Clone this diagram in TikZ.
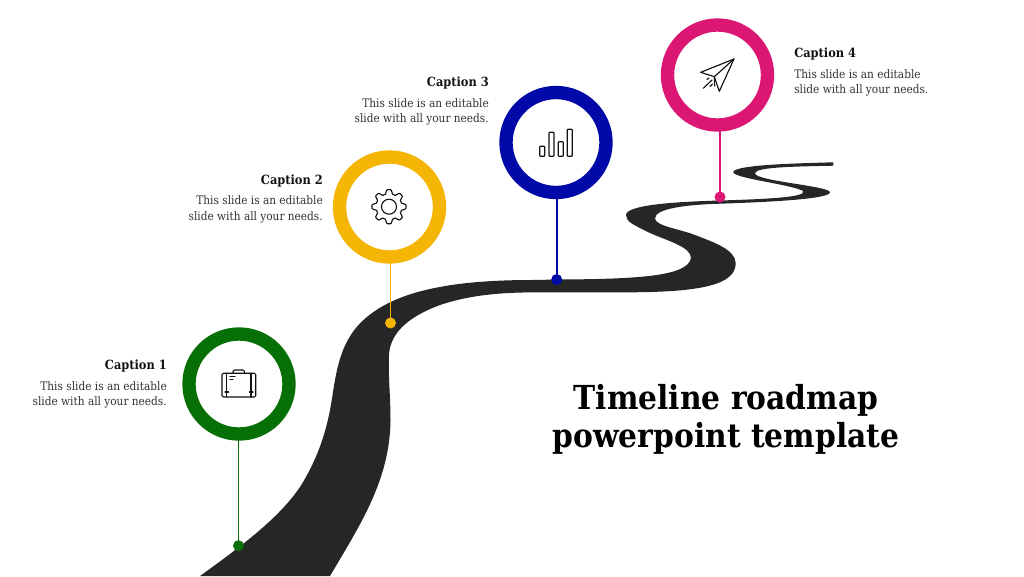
\documentclass[tikz,border=0pt]{standalone}
\usepackage{fontspec}
\setmainfont{DejaVu Serif Condensed}
\definecolor{cgreen}{HTML}{067006}
\definecolor{cyellow}{HTML}{F4B504}
\definecolor{cblue}{HTML}{0009A8}
\definecolor{cpink}{HTML}{DC1773}
\definecolor{road}{HTML}{262626}
\definecolor{ink}{HTML}{111111}
\definecolor{bodyink}{HTML}{333333}
\tikzset{
  ring/.style={circle,draw=#1,line width=10pt,fill=white,minimum size=75pt,inner sep=0pt,outer sep=0pt},
  pin/.style={circle,fill=#1,minimum size=8.25pt,inner sep=0pt},
  stem/.style={draw=#1,line width=1.2pt},
  icon/.style={draw=ink,line width=0.85pt,line join=round,line cap=round},
  caphead/.style={inner sep=0pt,font=\fontsize{9.5}{11}\selectfont\bfseries,text=ink},
  capbody/.style={inner sep=0pt,font=\fontsize{8.8}{11.6}\selectfont,text=bodyink},
  headline/.style={inner sep=0pt,align=center,font=\fontsize{24.8}{28.6}\selectfont\bfseries,text=black}
}
\begin{document}
\begin{tikzpicture}[x=0.75pt,y=-0.75pt]
\useasboundingbox (0,0) rectangle (1024,576);
% road
\fill[road] (833.3,162.3)
 .. controls (790,163.5) and (737,165) .. (733.3,171.7)
 .. controls (731,178) and (790,184) .. (803,191)
 .. controls (807,197) and (770,199) .. (720,200.5)
 .. controls (685,201.5) and (626,204) .. (626,215)
 .. controls (626,222) and (634,225) .. (650,233)
 .. controls (668,241) and (691,247) .. (691,258)
 .. controls (688,276) and (640,279) .. (560,279.5)
 -- (530,280)
 .. controls (500,280) and (465,282) .. (440,287)
 .. controls (400,294) and (365,310) .. (349,338)
 .. controls (340,353) and (336,372) .. (333,392)
 .. controls (329,420) and (322,452) .. (300,487)
 .. controls (280,516) and (250,540) .. (200,576)
 -- (330,576)
 .. controls (360,525) and (390,480) .. (390.5,420)
 .. controls (390.5,395) and (388,375) .. (389,355)
 .. controls (390,335) and (405,318) .. (440,305)
 .. controls (470,295) and (500,292.3) .. (540,292.3)
 -- (630,292.3)
 .. controls (700,292) and (736,285) .. (735.7,263)
 .. controls (735,250) and (716,243) .. (695,235)
 .. controls (680,229) and (655,226) .. (655,218.3)
 .. controls (655,208) and (690,204.5) .. (720,203.7)
 .. controls (770,202) and (830,199) .. (830,192.3)
 .. controls (830,186) and (755,181) .. (755,173.3)
 .. controls (755,167) and (795,166.5) .. (833.3,165.7)
 -- cycle;
% rings and pins
\node[ring=cgreen] (r1) at (239,384) {};
\node[ring=cyellow] (r2) at (389.5,207) {};
\node[ring=cblue] (r3) at (556,142.5) {};
\node[ring=cpink] (r4) at (717.5,75) {};
\node[pin=cgreen] (p1) at (238.5,545.7) {};
\node[pin=cyellow] (p2) at (390.5,323) {};
\node[pin=cblue] (p3) at (556.7,279.5) {};
\node[pin=cpink] (p4) at (720,197) {};
\draw[stem=cgreen] (p1.center) -- (p1.center |- r1.south);
\draw[stem=cyellow] (p2.center) -- (p2.center |- r2.south);
\draw[stem=cblue] (p3.center) -- (p3.center |- r3.south);
\draw[stem=cpink] (p4.center) -- (p4.center |- r4.south);
% briefcase
\draw[icon,rounded corners=1pt] (222,373.3) rectangle (255.7,397);
\draw[icon] (226.7,373.3) -- (226.7,397) (251,373.3) -- (251,397);
\draw[icon] (225,392) -- (228.5,392) (249.5,392) -- (253,392);
\draw[icon] (230,376.7) -- (235,376.7) (230,379.5) -- (233,379.5);
\draw[icon,rounded corners=1.5pt] (233,373.3) -- (233,370) -- (244.5,370) -- (244.5,373.3);
% gear
\draw[icon] plot[smooth cycle,tension=0.3,samples=96,domain=0:356.25,variable=\t] ({389+(15.0+2.5*(cos(8*\t)-0.2*cos(24*\t)))*cos(\t)},{206.7+(15.0+2.5*(cos(8*\t)-0.2*cos(24*\t)))*sin(\t)});
\draw[icon] (389,206.7) circle[radius=7.5];
% bars
\draw[icon,rounded corners=0.5pt] (539.7,146.3) rectangle (544.7,156.3);
\draw[icon,rounded corners=0.5pt] (549,132.3) rectangle (554,156.3);
\draw[icon,rounded corners=0.5pt] (558.3,141.7) rectangle (563.3,156.3);
\draw[icon,rounded corners=0.5pt] (567.3,129.3) rectangle (572.3,156.3);
% plane
\draw[icon] (734,59) -- (700.7,72.3) -- (714.3,76.7) -- (719.3,91.3) -- cycle;
\draw[icon] (734,59) -- (714.3,76.7) -- (714.7,86);
\draw[icon] (703.3,88.3) -- (712,80) (707,79.5) -- (709,78) (710,86.5) -- (712.5,84);
% captions
\node[caphead,anchor=base east] (c1) at (167,369) {Caption 1};
\node[capbody,anchor=north east,align=right] (b1) at (167,381) {This slide is an editable\\slide with all your needs.};
\node[caphead,anchor=base east] (c2) at (323,184) {Caption 2};
\node[capbody,anchor=north east,align=right] (b2) at (323,195.5) {This slide is an editable\\slide with all your needs.};
\node[caphead,anchor=base east] (c3) at (489,86) {Caption 3};
\node[capbody,anchor=north east,align=right] (b3) at (489,98) {This slide is an editable\\slide with all your needs.};
\node[caphead,anchor=base west] (c4) at (794,57) {Caption 4};
\node[capbody,anchor=north west,align=left] (b4) at (794,69) {This slide is an editable\\slide with all your needs.};
% title
\node[headline] (t) at (726,419.5) {Timeline roadmap\\powerpoint template};
\end{tikzpicture}
\end{document}
